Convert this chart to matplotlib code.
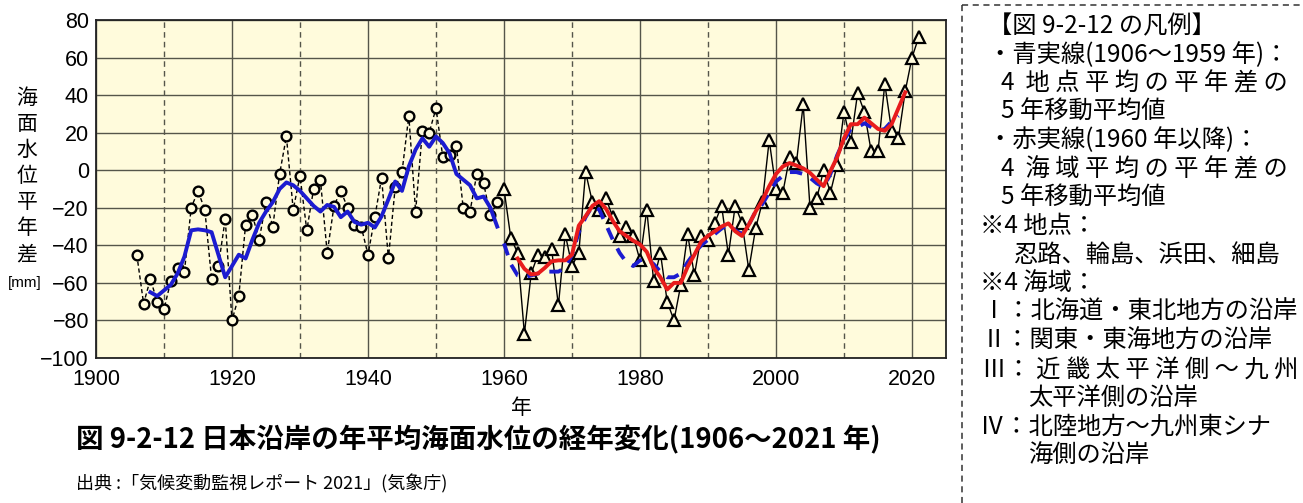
import matplotlib
matplotlib.use('Agg')
import matplotlib.pyplot as plt
from matplotlib.lines import Line2D
from matplotlib import font_manager

JP = 'Noto Sans CJK JP'
installed = {f.name for f in font_manager.fontManager.ttflist}
NUM = 'Liberation Sans Narrow' if 'Liberation Sans Narrow' in installed else 'Liberation Sans'
plt.rcParams['font.family'] = [JP, 'DejaVu Sans']

# --- data ---
years_pt = list(range(1906, 1960))
pt_avg = [-45, -71, -58, -70, -74, -59, -52, -54, -20, -11,
          -21, -58, -51, -26, -80, -67, -29, -24, -37, -17,
          -30, -2, 18, -21, -3, -32, -10, -5, -44, -19,
          -11, -20, -29, -30, -45, -25, -4, -47, -9, -1,
          29, -22, 21, 20, 33, 7, 8, 13, -20, -22,
          -2, -7, -24, -17]

years_sea = list(range(1960, 2022))
sea_avg = [-10, -36, -44, -87, -55, -45, -46, -42, -72, -34,
           -51, -44, -1, -17, -21, -15, -25, -35, -30, -35,
           -48, -21, -59, -44, -70, -80, -61, -34, -56, -35,
           -37, -28, -19, -45, -19, -28, -53, -31, -17, 16,
           -10, -12, 7, 4, 35, -20, -15, 0, -12, 3,
           31, 15, 41, 31, 10, 10, 46, 21, 17, 42,
           60, 71]

years_blue = list(range(1908, 1960))
blue_ma = [-65, -67, -64, -61, -55, -46, -32, -31.5, -32, -33,
           -45, -57, -51, -45, -47, -37, -28, -22, -17, -10,
           -6.5, -8, -11, -15, -19, -22, -18.5, -19.5, -25, -22,
           -27.5, -29, -28, -30.5, -24.5, -15.5, -6, -11, 2, 11,
           17, 12.5, 18, 14.5, 9, -2, -5, -8, -15, -14,
           -20, -30]

years_blue_d = list(range(1960, 2019))
blue_ma_d = [-39, -50, -56, -57, -56, -55, -54, -54, -54, -52,
             -45, -33, -25, -19, -21, -29, -37, -44, -49, -51,
             -48, -47, -50, -54, -57, -57, -55, -49, -44, -40,
             -37, -34, -31, -29, -32, -34, -29, -22, -18, -12,
             -6, -3, -1, -1, -2, -4, -7, -9, -2, 8,
             16, 22, 23, 25, 23, 21, 22, 26, 29]

years_red = list(range(1962, 2020))
red_ma = [-47, -52.5, -55.5, -55, -52, -48.5, -48, -48, -45, -29.5,
          -24.5, -19, -16.5, -20.5, -27, -32.5, -35, -37.5, -39.5, -43.5,
          -52, -57, -63.5, -60, -60, -51.5, -45, -38, -35, -32.5,
          -30, -28.3, -32.5, -35, -29, -22, -16, -8.5, -2, 2,
          3.8, 2.5, 1, -1.4, -5, -8.5, -0.5, 7, 17, 24.5,
          24.5, 28, 25, 22, 21, 24.5, 33, 41.5]

xticks = [1900, 1920, 1940, 1960, 1980, 2000, 2020]
xminor = [1910, 1930, 1950, 1970, 1990, 2010]
yticks = [-100, -80, -60, -40, -20, 0, 20, 40, 60, 80]

ylabel_chars = ['海', '面', '水', '位', '平', '年', '差']

legend_lines = [
    ('【図 9-2-12 の凡例】', 988),
    ('・青実線(1906～1959 年)：', 988),
    ('4  地 点 平 均 の 平 年 差 の', 1001),
    ('5 年移動平均値', 1001),
    ('・赤実線(1960 年以降)：', 988),
    ('4  海 域 平 均 の 平 年 差 の', 1001),
    ('5 年移動平均値', 1001),
    ('※4 地点：', 980),
    ('忍路、輪島、浜田、細島', 1013),
    ('※4 海域：', 980),
    ('Ⅰ：北海道・東北地方の沿岸', 982),
    ('Ⅱ：関東・東海地方の沿岸', 982),
    ('Ⅲ： 近 畿 太 平 洋 側 ～ 九 州', 982),
    ('太平洋側の沿岸', 1028),
    ('Ⅳ：北陸地方～九州東シナ', 980),
    ('海側の沿岸', 1028),
]

BG = '#fffbdc'
GRID = '#55554a'

W, H = 1303, 503
fig = plt.figure(figsize=(W / 100, H / 100), dpi=100)
fig.patch.set_facecolor('white')
ax = fig.add_axes([96 / W, 1 - 358 / H, 850 / W, 338 / H])
ax.set_facecolor(BG)

# observed annual values
ax.plot(years_pt, pt_avg, color='black', lw=1.0, ls=(0, (3, 2)), zorder=3)
ax.plot(years_pt, pt_avg, ls='none', marker='o', ms=7, mew=1.7,
        mec='black', mfc=BG, zorder=4)
ax.plot(years_sea, sea_avg, color='black', lw=1.0, zorder=3)
ax.plot(years_sea, sea_avg, ls='none', marker='^', ms=8.5, mew=1.6,
        mec='black', mfc=BG, zorder=4)

# 5-year moving averages
ax.plot(years_blue, blue_ma, color='#1c1cd0', lw=2.8, zorder=5)
ax.plot(years_blue_d, blue_ma_d, color='#1c1cd0', lw=2.8, ls=(0, (3.2, 2.6)), zorder=5)
ax.plot(years_red, red_ma, color='#e81c1c', lw=2.8, zorder=6)

ax.set_xlim(1900, 2025)
ax.set_ylim(-100, 80)
ax.set_xticks(xticks)
ax.set_xticks(xminor, minor=True)
ax.set_yticks(yticks)
ax.grid(True, which='major', color=GRID, lw=1.0, zorder=1)
ax.grid(True, which='minor', axis='x', color=GRID, lw=1.0, ls=(0, (4, 3)), zorder=1)
ax.set_axisbelow(True)
ax.tick_params(which='both', length=0, labelsize=15.5)
ax.tick_params(axis='x', pad=8)
ax.tick_params(axis='y', pad=5)
for lab in ax.get_xticklabels() + ax.get_yticklabels():
    lab.set_fontfamily(NUM)
for s in ax.spines.values():
    s.set_color('#222222')
    s.set_linewidth(1.3)

# x-axis label
fig.text(521 / W, 1 - 408 / H, '年', fontsize=15, ha='center', va='center')

# vertical y-axis label
for i, ch in enumerate(ylabel_chars):
    fig.text(27 / W, 1 - (98 + i * 26) / H, ch, fontsize=15, ha='center', va='center')
fig.text(25 / W, 1 - 283 / H, '[mm]', fontsize=11, ha='center', va='center', family=NUM)

# caption
fig.text(76 / W, 1 - 440 / H, '図 9-2-12 日本沿岸の年平均海面水位の経年変化(1906〜2021 年)',
         fontsize=19.8, fontweight='bold', ha='left', va='center')
fig.text(76 / W, 1 - 484 / H, '出典 :「気候変動監視レポート 2021」(気象庁)',
         fontsize=13, ha='left', va='center')

# legend box (dashed frame)
bx, by = 962 / W, 1 - 5 / H
fig.add_artist(Line2D([bx, 1.0], [by, by], transform=fig.transFigure,
                      color='#333333', lw=1.1, ls=(0, (4, 3))))
fig.add_artist(Line2D([bx, bx], [by, 0.0], transform=fig.transFigure,
                      color='#333333', lw=1.1, ls=(0, (4, 3))))
for i, (txt, xpx) in enumerate(legend_lines):
    fig.text(xpx / W, 1 - (26 + i * 28.6) / H, txt, fontsize=17.5,
             ha='left', va='center')

fig.savefig('out.png', dpi=100)
